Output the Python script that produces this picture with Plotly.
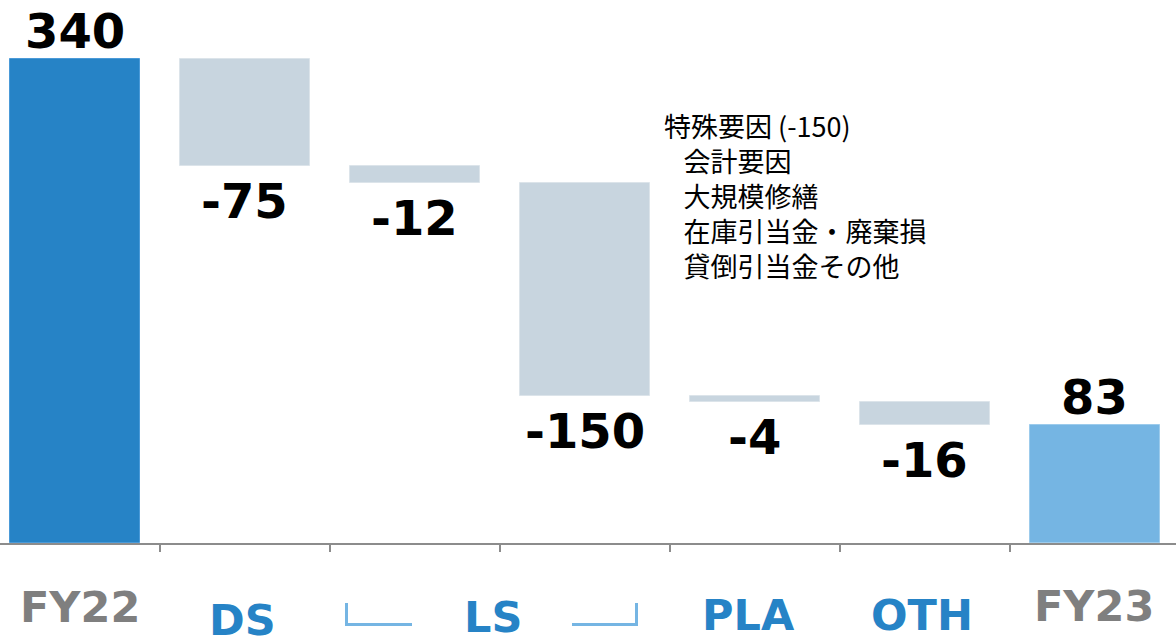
import plotly.graph_objects as go

# ---------------- data ----------------
categories = ["FY22", "DS", "LS", "特殊要因", "PLA", "OTH", "FY23"]
values = [340, -75, -12, -150, -4, -16, 83]
measures = ["absolute", "relative", "relative", "relative", "relative", "relative", "total"]

axis_labels = ["FY22", "DS", "LS", "PLA", "OTH", "FY23"]
axis_label_pos = [0, 1, 2.5, 4, 5, 6]          # category coordinate of each label
axis_label_kind = ["fy", "seg", "seg", "seg", "seg", "fy"]

note_title = "特殊要因 (-150)"
note_items = ["会計要因", "大規模修繕", "在庫引当金・廃棄損", "貸倒引当金その他"]

# ---------------- styling ----------------
W, H = 1176, 640
B_MARGIN = 97
PLOT_H = H - B_MARGIN
PX_PER_UNIT = 1.4226
SLOT_PX = 170.0
X0 = -74.5 / SLOT_PX

C_FY22 = "#2683C6"
C_FY23 = "#75B5E3"
C_DELTA = "#C8D5DF"
C_SEG = "#2683C6"
C_FY = "#7F7F7F"
C_AXIS = "#8C8C8C"

# waterfall geometry computed from values
bases, heights = [], []
run = 0
for m, v in zip(measures, values):
    if m == "absolute":
        bases.append(0); heights.append(v); run = v
    elif m == "relative":
        bases.append(run); heights.append(v); run += v
    else:
        bases.append(0); heights.append(v)

colors = []
lines = []
for i, m in enumerate(measures):
    if m == "relative":
        colors.append(C_DELTA); lines.append("#DCE4EA")
    elif i == 0:
        colors.append(C_FY22); lines.append("#4A9AD8")
    else:
        colors.append(C_FY23); lines.append("#9CCBEC")

fig = go.Figure()
fig.add_trace(go.Bar(
    x=categories, y=heights, base=bases,
    width=130 / SLOT_PX,
    marker=dict(color=colors, line=dict(color=lines, width=1)),
    hoverinfo="skip", showlegend=False,
))

annotations = []
num_font = dict(family="DejaVu Sans", size=48, color="#000000", weight="bold")
for i, (b, h, v) in enumerate(zip(bases, heights, values)):
    end = b + h
    if h < 0:
        annotations.append(dict(x=i, y=end, xref="x", yref="y", text=f"{v}",
                                showarrow=False, yanchor="top", xanchor="center",
                                yshift=-5, font=num_font))
    else:
        annotations.append(dict(x=i, y=end, xref="x", yref="y", text=f"{v}",
                                showarrow=False, yanchor="bottom", xanchor="center",
                                yshift=-2, font=num_font))

# category labels below the axis
label_yshift = {"FY22": -37, "DS": -50, "LS": -47, "PLA": -45, "OTH": -45, "FY23": -36}
label_xshift = {"FY22": 5, "DS": -2, "LS": -7, "PLA": -6, "OTH": -3, "FY23": -1}
for t, p, k in zip(axis_labels, axis_label_pos, axis_label_kind):
    annotations.append(dict(
        x=p, y=0, xref="x", yref="y", text=t, showarrow=False,
        xanchor="center", yanchor="top",
        yshift=label_yshift[t], xshift=label_xshift[t],
        font=dict(family="DejaVu Sans", size=43, weight="bold",
                  color=C_FY if k == "fy" else C_SEG),
    ))

# note text block (one multi-line annotation)
def px2paper(px, py):
    return px / W, (PLOT_H - py) / PLOT_H

indent = "\u2002\u00a0"
note_text = "<br>".join([note_title] + [indent + it for it in note_items])
nx, ny = px2paper(662, 195.5)
annotations.append(dict(x=nx, y=ny, xref="paper", yref="paper", text=note_text,
                        showarrow=False, xanchor="left", yanchor="middle", align="left",
                        font=dict(family="Noto Sans CJK JP", size=27, color="#000000")))

# brackets around the LS label
def path_from(points):
    segs = []
    for n, (px, py) in enumerate(points):
        xp, yp = px2paper(px, py)
        segs.append(("M" if n == 0 else "L") + f" {xp:.5f},{yp:.5f}")
    return " ".join(segs)

shapes = [
    dict(type="path", xref="paper", yref="paper",
         path=path_from([(346.5, 603), (346.5, 624.5), (412, 624.5)]),
         line=dict(color=C_FY23, width=3)),
    dict(type="path", xref="paper", yref="paper",
         path=path_from([(572, 624.5), (636.5, 624.5), (636.5, 603)]),
         line=dict(color=C_FY23, width=3)),
]

fig.update_layout(
    width=W, height=H,
    margin=dict(l=0, r=0, t=0, b=B_MARGIN, pad=0),
    paper_bgcolor="white", plot_bgcolor="white",
    bargap=0,
    annotations=annotations,
    shapes=shapes,
    xaxis=dict(type="category", range=[X0, X0 + W / SLOT_PX],
               showline=True, linecolor=C_AXIS, linewidth=2,
               ticks="outside", tickson="boundaries", ticklen=7, tickwidth=2,
               tickcolor=C_AXIS, showticklabels=False, showgrid=False,
               zeroline=False, fixedrange=True),
    yaxis=dict(range=[0, PLOT_H / PX_PER_UNIT], visible=False, fixedrange=True),
)

fig.write_html(
    "out.html",
    config={"displayModeBar": False},
    post_script="document.body.style.margin='0';document.body.style.overflow='hidden';",
)
